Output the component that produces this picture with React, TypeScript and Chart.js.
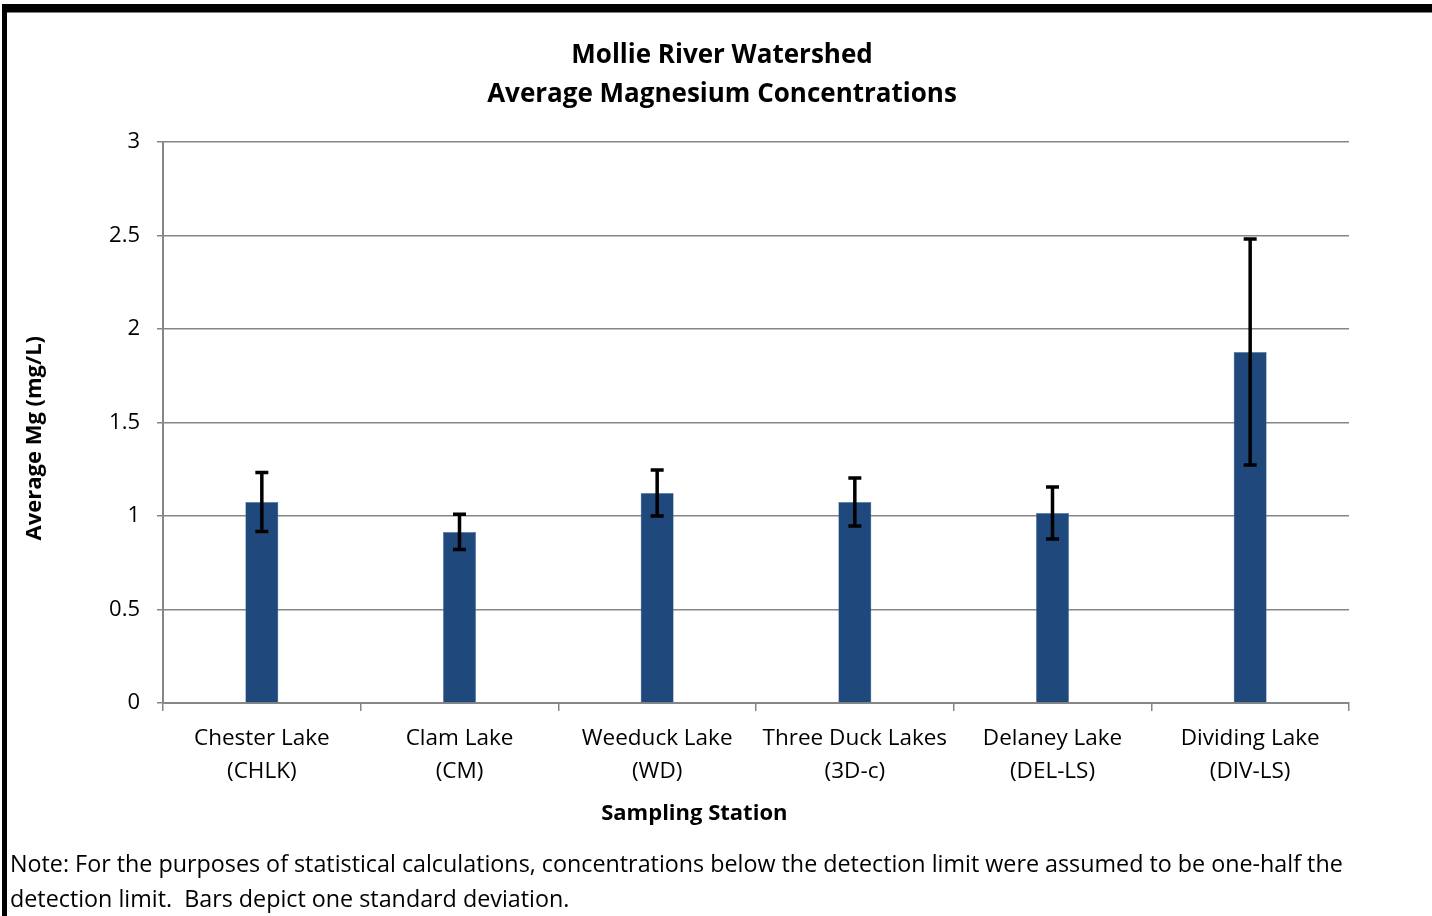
import React, { useEffect, useRef } from "react";
import { Chart, registerables } from "chart.js";

Chart.register(...registerables);

const stations: string[][] = [
  ["Chester Lake", "(CHLK)"],
  ["Clam Lake", "(CM)"],
  ["Weeduck Lake", "(WD)"],
  ["Three Duck Lakes", "(3D-c)"],
  ["Delaney Lake", "(DEL-LS)"],
  ["Dividing Lake", "(DIV-LS)"],
];
const meanMg: number[] = [1.075, 0.915, 1.123, 1.075, 1.016, 1.877];
const sdMg: number[] = [0.158, 0.094, 0.123, 0.128, 0.139, 0.604];
const titleLines: string[] = ["Mollie River Watershed", "Average Magnesium Concentrations"];
const yTitle = "Average Mg (mg/L)";
const xTitle = "Sampling Station";
const noteLines: string[] = [
  "Note: For the purposes of statistical calculations, concentrations below the detection limit were assumed to be one-half the",
  "detection limit.  Bars depict one standard deviation.",
];

const FONT = "'Open Sans', 'DejaVu Sans', sans-serif";
const AXIS_COLOR = "#868686";

export default function App() {
  const ref = useRef<HTMLCanvasElement | null>(null);
  useEffect(() => {
    if (!ref.current) return;
    const frame = {
      id: "frame",
      beforeDraw(chart: any) {
        const ctx = chart.ctx;
        ctx.save();
        ctx.fillStyle = "#ffffff";
        ctx.fillRect(0, 0, chart.width, chart.height);
        ctx.fillStyle = "#000000";
        ctx.fillRect(2, 4, chart.width - 2, 8.5);
        ctx.fillRect(2, 4, 5, chart.height - 4);
        ctx.restore();
      },
    };
    const errorBars = {
      id: "errorBars",
      afterDatasetsDraw(chart: any) {
        const ctx = chart.ctx;
        const meta = chart.getDatasetMeta(0);
        const y = chart.scales.y;
        ctx.save();
        ctx.strokeStyle = "#000000";
        ctx.lineWidth = 3.5;
        meta.data.forEach((bar: any, i: number) => {
          const x = bar.x;
          const yTop = y.getPixelForValue(meanMg[i] + sdMg[i]);
          const yBot = y.getPixelForValue(meanMg[i] - sdMg[i]);
          ctx.beginPath();
          ctx.moveTo(x, yTop);
          ctx.lineTo(x, yBot);
          ctx.moveTo(x - 6.5, yTop);
          ctx.lineTo(x + 6.5, yTop);
          ctx.moveTo(x - 6.5, yBot);
          ctx.lineTo(x + 6.5, yBot);
          ctx.stroke();
        });
        ctx.restore();
      },
    };
    const texts = {
      id: "texts",
      afterDraw(chart: any) {
        const ctx = chart.ctx;
        const ca = chart.chartArea;
        ctx.save();
        ctx.fillStyle = "#000000";
        ctx.textAlign = "center";
        ctx.textBaseline = "middle";
        ctx.font = `bold 26px ${FONT}`;
        ctx.fillText(titleLines[0], 722, 56);
        ctx.fillText(titleLines[1], 722, 95);
        ctx.font = `bold 22px ${FONT}`;
        ctx.fillText(xTitle, ca.left + (ca.right - ca.left) * 0.448, 814);
        ctx.save();
        ctx.translate(35, ca.top + (ca.bottom - ca.top) * 0.528);
        ctx.rotate(-Math.PI / 2);
        ctx.fillText(yTitle, 0, 0);
        ctx.restore();
        ctx.font = `23.3px ${FONT}`;
        ctx.textAlign = "left";
        ctx.fillText(noteLines[0], 10, 865);
        ctx.fillText(noteLines[1], 10, 900);
        ctx.restore();
      },
    };
    const chart = new Chart(ref.current, {
      type: "bar",
      data: {
        labels: stations,
        datasets: [
          {
            data: meanMg,
            backgroundColor: "#1F497D",
            borderColor: "#5A7DB0",
            borderWidth: 0.5,
            barPercentage: 0.167,
            categoryPercentage: 1,
          },
        ],
      },
      options: {
        animation: false,
        responsive: false,
        devicePixelRatio: 1,
        layout: { padding: { top: 142, left: 0, right: 83, bottom: 0 } },
        plugins: {
          legend: { display: false },
          tooltip: { enabled: false },
          title: { display: false },
        },
        scales: {
          x: {
            grid: {
              drawOnChartArea: false,
              drawTicks: true,
              tickLength: 8,
              color: AXIS_COLOR,
              lineWidth: 1.5,
            },
            border: { color: AXIS_COLOR, width: 2 },
            ticks: {
              color: "#000000",
              font: { family: FONT, size: 22.5, lineHeight: 1.47 },
              padding: 11,
              maxRotation: 0,
              autoSkip: false,
            },
            afterFit(scale: any) {
              scale.height = 213;
            },
          },
          y: {
            min: 0,
            max: 3,
            grid: {
              color: AXIS_COLOR,
              lineWidth: 1.5,
              tickLength: 6,
            },
            border: { color: AXIS_COLOR, width: 2 },
            ticks: {
              stepSize: 0.5,
              color: "#000000",
              font: { family: FONT, size: 22 },
              padding: 17,
              callback: (v: any) => String(Number(v)),
            },
            afterFit(scale: any) {
              scale.width = 163;
            },
          },
        },
      },
      plugins: [frame, errorBars, texts],
    } as any);
    return () => chart.destroy();
  }, []);
  return (
    <div style={{ position: "fixed", left: 0, top: 0, width: 1432, height: 916, background: "#fff" }}>
      <canvas ref={ref} width={1432} height={916} style={{ display: "block", width: 1432, height: 916 }} />
    </div>
  );
}
